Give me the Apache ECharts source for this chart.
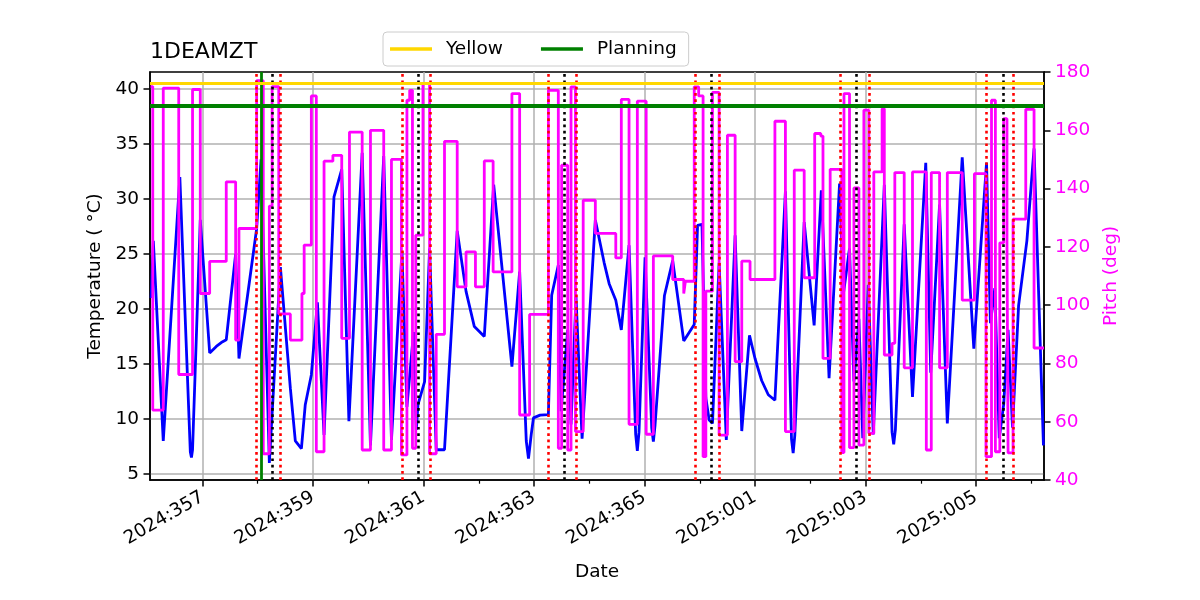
<!DOCTYPE html>
<html><head><meta charset="utf-8">
<script src="https://cdn.jsdelivr.net/npm/echarts@6/dist/echarts.min.js"></script>
<style>html,body{margin:0;padding:0;background:#fff}#c{width:1200px;height:600px}</style>
</head><body><div id="c"></div>
<script>
// x values are fractional day-of-year counted from 2024 (2025:001 = 367)
const xTickDays = [357, 359, 361, 363, 365, 367, 369, 371];
const xTickLabels = ['2024:357','2024:359','2024:361','2024:363','2024:365','2025:001','2025:003','2025:005'];
const xMinorDays = [358, 360, 362, 364, 366, 368, 370, 372];
const tempTicks = [5, 10, 15, 20, 25, 30, 35, 40];

const temperature = [
[356.07,21.0],[356.11,26.2],[356.29,8.0],[356.59,32.0],[356.78,7.0],[356.80,6.5],[356.82,7.2],
[356.96,28.1],[357.13,16.0],[357.25,16.6],[357.34,16.95],[357.43,17.2],[357.60,25.0],[357.66,15.5],
[357.98,27.3],[358.06,33.6],[358.21,6.0],[358.41,23.8],[358.59,12.8],[358.68,8.0],[358.79,7.3],
[358.86,11.3],[358.97,14.0],[359.08,20.6],[359.20,8.55],[359.38,30.2],[359.52,32.7],[359.65,9.8],
[359.89,34.2],[360.04,7.6],[360.28,33.9],[360.42,8.1],[360.61,25.2],[360.70,11.1],[360.82,17.9],
[360.87,9.0],[360.90,11.3],[361.02,13.4],[361.11,25.5],[361.23,7.2],[361.38,7.2],[361.61,27.1],
[361.77,21.6],[361.92,18.4],[362.10,17.5],[362.27,31.3],[362.60,14.75],[362.74,23.4],[362.86,8.0],[362.90,6.4],
[362.95,8.6],[362.99,10.1],[363.11,10.35],[363.26,10.4],[363.32,21.25],[363.44,24.0],[363.49,10.7],[363.61,18.1],
[363.67,9.5],[363.76,21.1],[363.87,8.2],[364.11,28.1],[364.27,24.2],[364.36,22.3],[364.48,20.8],
[364.58,18.1],[364.72,25.8],[364.84,8.6],[364.87,7.1],[364.90,8.8],[365.01,24.7],[365.13,9.2],[365.16,7.95],[365.19,9.4],
[365.36,21.2],[365.51,24.4],
[365.71,17.1],[365.90,18.6],[365.96,27.6],[366.04,27.7],[366.11,11.9],[366.17,9.9],[366.23,9.6],
[366.35,24.2],[366.48,8.1],[366.64,26.7],[366.76,8.9],[366.90,17.6],[367.00,15.5],[367.12,13.5],
[367.24,12.2],[367.36,11.7],[367.55,30.7],[367.66,8.2],[367.69,6.9],[367.72,8.5],[367.89,27.9],[368.07,18.5],[368.20,30.8],
[368.34,13.7],[368.53,31.4],[368.60,21.4],[368.71,25.5],[368.79,13.4],[368.88,19.1],[368.95,8.25],
[369.05,22.2],[369.14,8.6],[369.34,31.3],[369.48,8.8],[369.51,7.7],[369.54,9.0],[369.70,27.7],[369.85,12.0],[370.09,33.3],
[370.18,14.2],[370.34,29.5],[370.48,9.6],[370.75,33.8],[370.96,16.4],[371.19,33.3],[371.26,18.7],
[371.34,21.9],[371.42,8.25],[371.50,11.3],[371.58,18.1],[371.66,9.2],[371.77,20.3],[371.92,26.2],
[372.05,34.6],[372.22,7.6]
];

const pitch = [
[356.06,175],[356.10,64],[356.29,174.5],[356.57,76.2],[356.82,174],[356.96,104],[357.13,115],
[357.43,142.3],[357.60,88],[357.66,126.3],[357.98,177],[358.10,49],[358.21,134],[358.26,175],
[358.38,97],[358.59,88],[358.80,104],[358.84,120.6],[358.97,171.8],[359.06,49.7],[359.20,149.4],
[359.36,151.4],[359.52,88.6],[359.66,159.4],[359.89,50.3],[360.04,160],[360.28,50.3],[360.42,150],
[360.60,48.6],[360.70,170.3],[360.75,173.7],[360.80,50.9],[360.86,124],[360.99,176],[361.11,49],
[361.23,90],[361.38,156.2],[361.61,106.3],[361.77,118.3],[361.94,106.3],[362.10,149.5],[362.26,111.4],
[362.60,172.6],[362.74,62.3],[362.92,96.8],[363.26,173.7],[363.44,50.9],[363.50,148],[363.61,50.3],
[363.67,174.9],[363.75,56.6],[363.89,136],[364.11,124.6],[364.48,116.2],[364.58,170.6],[364.72,59.1],
[364.87,170],[365.03,55.7],[365.16,116.9],[365.51,108.8],[365.71,104],[365.74,108.2],[365.90,174.9],
[365.98,171.8],[366.06,48],[366.11,104.8],[366.23,173],[366.35,55.4],[366.50,158.3],[366.64,80.6],
[366.76,115.1],[366.91,108.8],[367.36,163.1],[367.55,56.6],[367.71,146.3],[367.89,109.4],[368.08,158.9],
[368.19,158],[368.23,81.7],[368.36,146.6],[368.57,49.4],[368.61,172.6],[368.71,51.1],[368.79,140.2],
[368.88,52],[368.97,166.9],[369.06,56],[369.15,145.7],[369.30,167.4],[369.34,82.9],[369.48,86.9],
[369.53,145.5],[369.70,78.5],[369.85,145.7],[370.10,50.3],[370.19,145.5],[370.34,78.5],[370.48,145.5],
[370.75,101.7],[370.97,145.1],[371.18,48],[371.28,170.3],[371.35,49.7],[371.43,121.4],[371.50,164],
[371.56,121.4],[371.58,49.3],[371.67,129.5],[371.90,167.2],[372.05,85.3],[372.23,85.3]
];

const yellowLimit = 40.5;
const planningLimit = 38.5;
const redEvents = [357.98, 358.41, 360.61, 361.13, 363.26, 363.76, 365.91, 366.36, 368.55, 369.07, 371.18, 371.68];
const blackEvents = [358.27, 360.91, 363.55, 366.20, 368.84, 371.49];
const greenEvents = [358.06];

const FONT = 'DejaVu Sans';
const FS = 18.5;
const chart = echarts.init(document.getElementById('c'), null, {renderer: 'canvas'});

function vlines(arr, color, type, width, z) {
  return {
    type: 'line', data: [], xAxisIndex: 0, yAxisIndex: 0, silent: true,
    markLine: {
      silent: true, symbol: 'none', animation: false, z: z,
      label: {show: false}, emphasis: {disabled: true},
      lineStyle: {color: color, type: type, width: width},
      data: arr.map(v => ({xAxis: v}))
    }
  };
}
function hline(name, value, color, width) {
  return {
    name: name, type: 'line', data: [], xAxisIndex: 0, yAxisIndex: 0, silent: true,
    color: color, itemStyle: {color: color}, lineStyle: {color: color, width: width},
    markLine: {
      silent: true, symbol: 'none', animation: false, z: 7,
      label: {show: false}, emphasis: {disabled: true},
      lineStyle: {color: color, type: 'solid', width: width},
      data: [{yAxis: value}]
    }
  };
}

const axisLineStyle = {color: '#000', width: 1.5};
const gridLine = {show: true, lineStyle: {color: '#b0b0b0', width: 1.5}};

chart.setOption({
  animation: false,
  textStyle: {fontFamily: FONT},
  title: {
    text: '1DEAMZT', left: 150, top: 41, padding: 0,
    textStyle: {fontFamily: FONT, fontSize: 22, fontWeight: 'normal', color: '#000'}
  },
  legend: {
    data: [{name: 'Yellow'}, {name: 'Planning'}],
    left: 383, top: 32, padding: [7.5, 12, 7.5, 7], itemGap: 38,
    itemWidth: 42, itemHeight: 3.5, icon: 'rect',
    borderColor: '#cccccc', borderWidth: 1, borderRadius: 4,
    backgroundColor: 'rgba(255,255,255,0.8)',
    textStyle: {fontFamily: FONT, fontSize: FS, color: '#000', padding: [0, 0, 0, 9]}
  },
  grid: {
    left: 150, right: 156, top: 72, bottom: 120, show: true,
    borderColor: '#000', borderWidth: 1.5, backgroundColor: 'transparent',
    outerBoundsMode: 'none'
  },
  xAxis: [{
    type: 'value', min: 356.05, max: 372.23, position: 'bottom',
    axisLine: {show: true, onZero: false, lineStyle: axisLineStyle},
    axisTick: {show: true, customValues: xTickDays, length: 6.5, lineStyle: axisLineStyle},
    axisLabel: {
      customValues: xTickDays, rotate: 30, margin: 16,
      fontFamily: FONT, fontSize: FS, color: '#000',
      formatter: v => { const i = xTickDays.indexOf(Math.round(v)); return i >= 0 ? xTickLabels[i] : ''; }
    },
    splitLine: gridLine,
    name: 'Date', nameLocation: 'middle', nameGap: 83,
    nameTextStyle: {fontFamily: FONT, fontSize: FS, color: '#000'}
  }, {
    type: 'value', min: 356.05, max: 372.23, position: 'bottom',
    axisLine: {show: false, onZero: false},
    axisTick: {show: true, customValues: xMinorDays, length: 3.7, lineStyle: {color: '#000', width: 1.2}},
    axisLabel: {show: false},
    splitLine: {show: false}
  }],
  yAxis: [{
    type: 'value', min: 4.45, max: 41.55, position: 'left',
    axisLine: {show: true, onZero: false, lineStyle: axisLineStyle},
    axisTick: {show: true, customValues: tempTicks, length: 6.5, lineStyle: axisLineStyle},
    axisLabel: {customValues: tempTicks, margin: 11, fontFamily: FONT, fontSize: FS, color: '#000'},
    splitLine: gridLine,
    name: 'Temperature ( °C)', nameLocation: 'middle', nameGap: 45, nameRotate: 90,
    nameTextStyle: {fontFamily: FONT, fontSize: FS, color: '#000'}
  }, {
    type: 'value', min: 40, max: 180, interval: 20, position: 'right',
    axisLine: {show: true, onZero: false, lineStyle: axisLineStyle},
    axisTick: {show: true, length: 6.5, lineStyle: axisLineStyle},
    axisLabel: {margin: 11, fontFamily: FONT, fontSize: FS, color: '#ff00ff'},
    splitLine: {show: false},
    name: 'Pitch (deg)', nameLocation: 'middle', nameGap: 47, nameRotate: 90,
    nameTextStyle: {fontFamily: FONT, fontSize: FS, color: '#ff00ff'}
  }],
  series: [
    {
      name: 'Temperature', type: 'line', data: temperature, xAxisIndex: 0, yAxisIndex: 0,
      showSymbol: false, symbol: 'none', silent: true, z: 2,
      lineStyle: {color: '#0000ff', width: 2.8}, itemStyle: {color: '#0000ff'}
    },
    {
      name: 'Pitch', type: 'line', step: 'end', data: pitch, xAxisIndex: 0, yAxisIndex: 1,
      showSymbol: false, symbol: 'none', silent: true, z: 3,
      lineStyle: {color: '#ff00ff', width: 2.8}, itemStyle: {color: '#ff00ff'}
    },
    vlines(redEvents, '#ff0000', [2.7, 3.6], 2.6, 5),
    vlines(blackEvents, '#000000', [2.7, 3.6], 2.6, 5),
    vlines(greenEvents, '#008000', 'solid', 2.8, 5),
    hline('Yellow', yellowLimit, '#FFD700', 2.8),
    hline('Planning', planningLimit, '#008000', 4)
  ]
});
</script>
</body></html>
